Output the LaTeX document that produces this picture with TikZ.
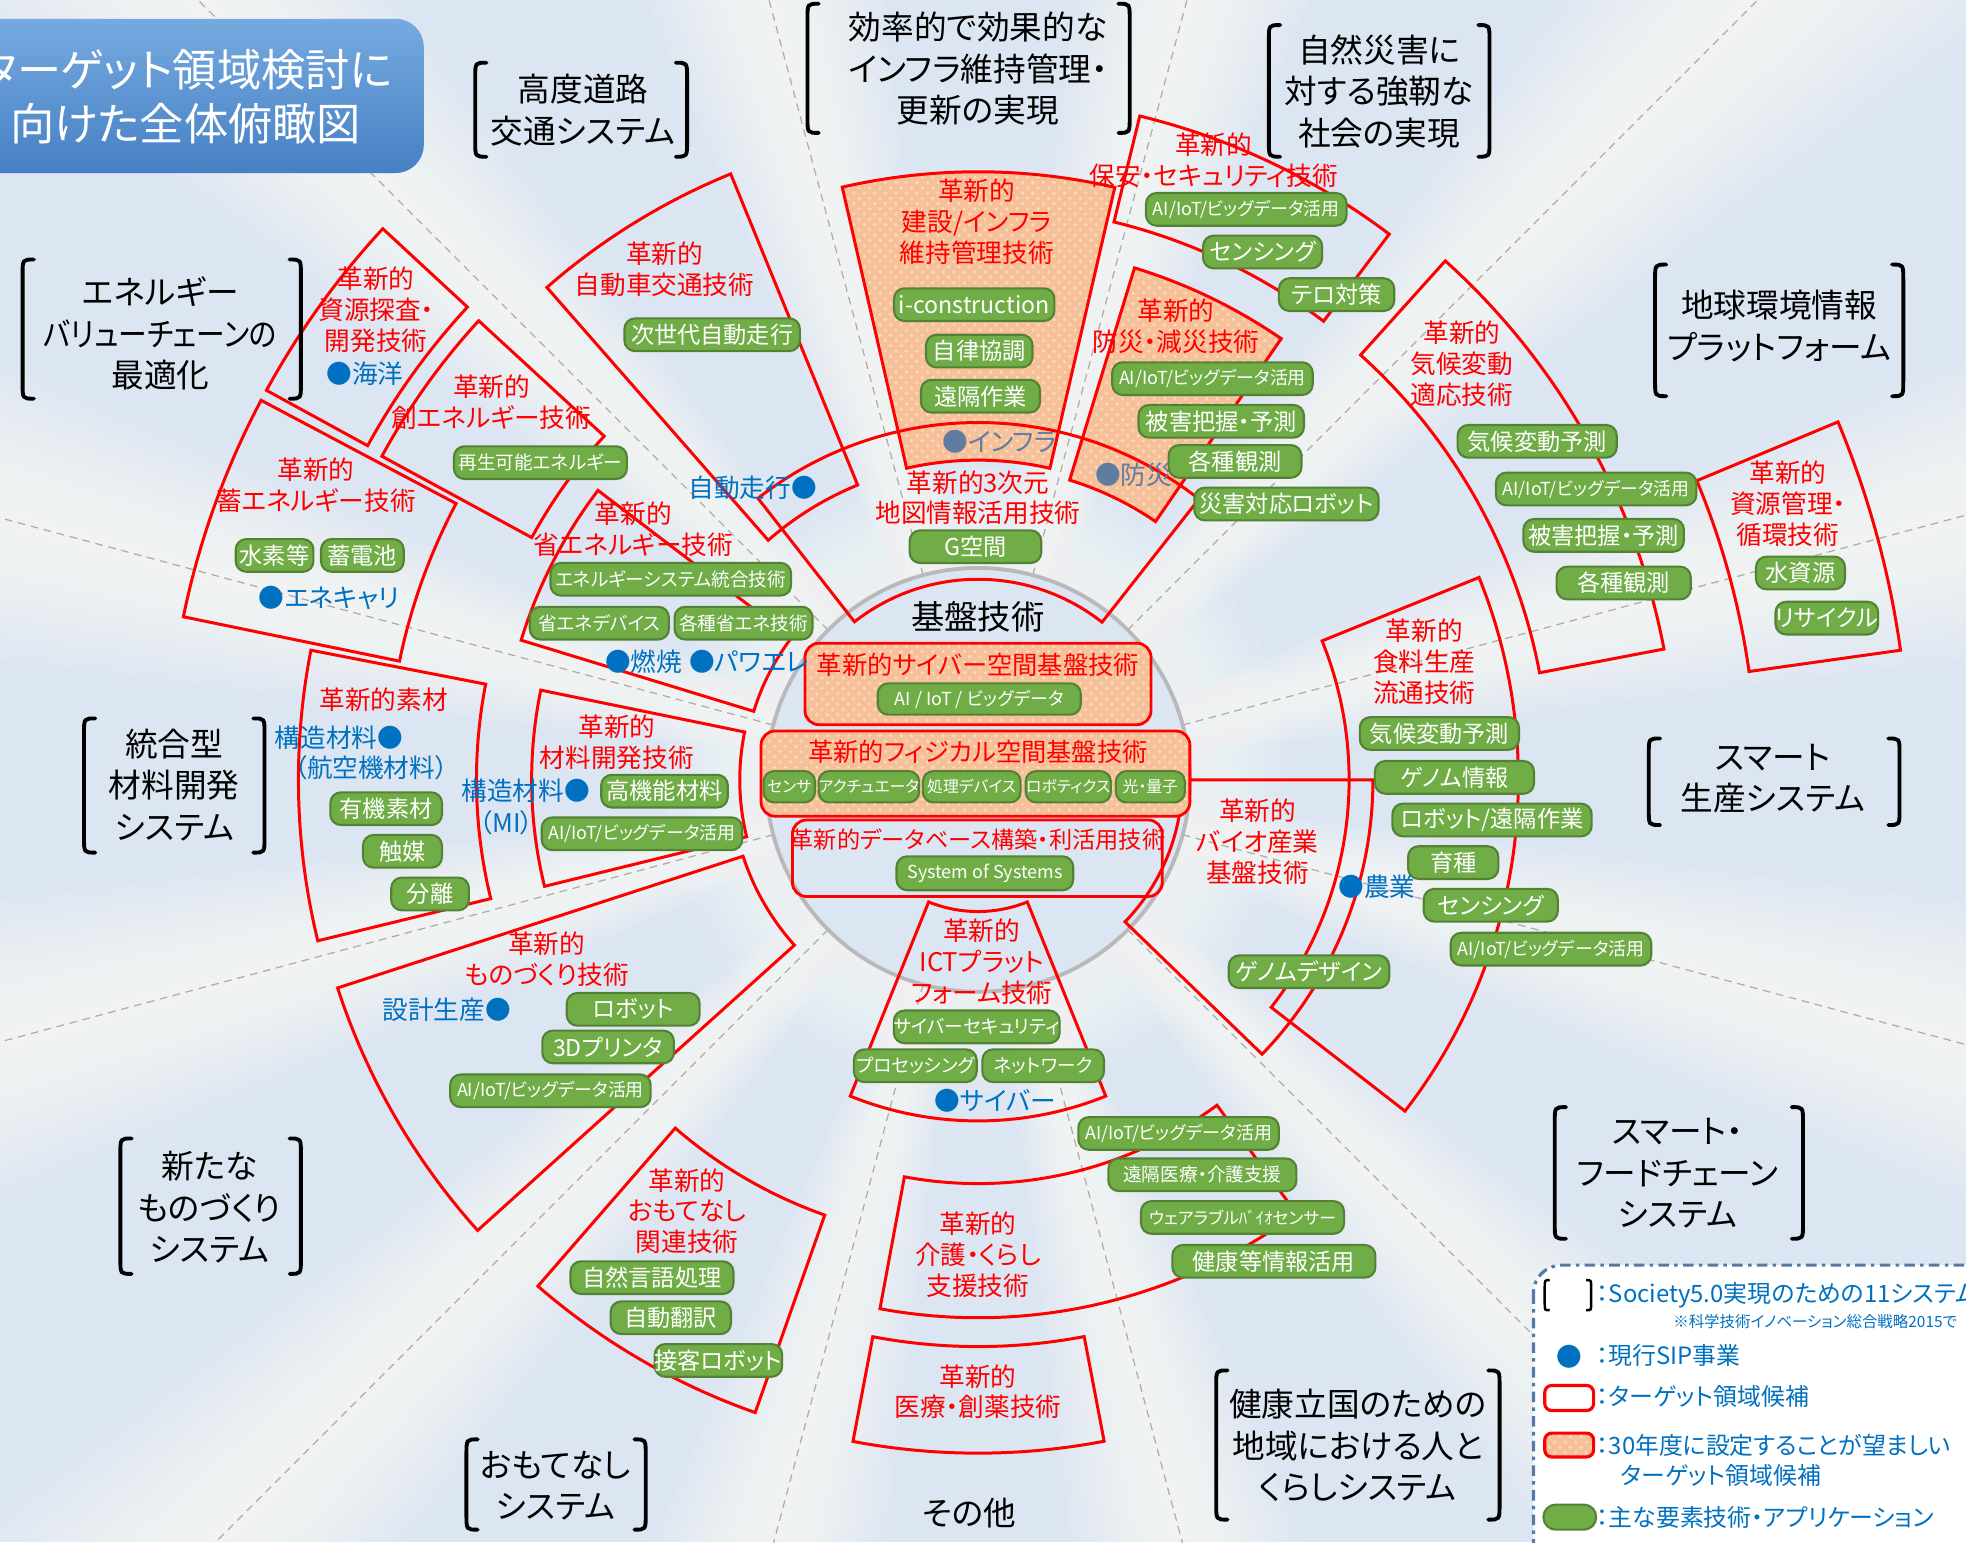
\documentclass[tikz,border=0pt]{standalone}
\usepackage{fontspec}
\usepackage{graphicx}
\setmainfont{Noto Sans CJK JP}[RawFeature=+palt]
\usetikzlibrary{patterns}

\definecolor{bgblue}{RGB}{220,230,242}
\definecolor{circfill}{RGB}{220,230,242}
\definecolor{gfill}{RGB}{112,173,71}
\definecolor{gline}{RGB}{84,130,53}
\definecolor{sipblue}{RGB}{0,112,192}
\definecolor{sipgray}{RGB}{96,124,160}
\definecolor{hatch}{RGB}{246,192,152}
\definecolor{hatchdot}{RGB}{251,218,194}
\definecolor{legline}{RGB}{84,122,168}
\definecolor{titletop}{RGB}{118,170,224}
\definecolor{titlebot}{RGB}{70,128,196}

\newcommand{\fs}[2]{\fontsize{#1pt}{#2pt}\selectfont}

\begin{document}
\begin{tikzpicture}[x=0.012538cm, y=-0.012538cm,
    sect/.style={draw=red, line width=0.85pt},
    ofill/.style={preaction={fill=hatch}, pattern=crosshatch dots, pattern color=hatchdot},
    gbox/.style={draw=gline, fill=gfill, line width=0.6pt, rounded corners=3pt, text=white,
      inner sep=0pt, minimum height=9.3pt, font=\fs{6.6}{7.5}},
    gsmall/.style={gbox, font=\fs{5.3}{6.2}},
    gtiny/.style={gbox, font=\fs{5.1}{6}},
    gmini/.style={gbox, font=\fs{4.5}{5}},
    rtxt/.style={text=red, align=center, inner sep=0pt, font=\fs{7.3}{8.8}},
    btxt/.style={text=sipblue, align=center, inner sep=0pt, font=\fs{7.3}{8.6}},
    ktxt/.style={align=center, inner sep=0pt, font=\fs{9.3}{11.8}},
    ltxt/.style={text=sipblue, anchor=west, inner sep=0pt, font=\fs{6.8}{9}},
    brk/.style={line width=1.1pt, line cap=round},
    divider/.style={draw=gray!65, line width=0.35pt, dash pattern=on 2.2pt off 1.6pt}]

\useasboundingbox (0,0) rectangle (1568,1230);
\clip (0,0) rectangle (1568,1230);

% background: light blue with soft white streaks along the dividers
\fill[bgblue] (0,0) rectangle (1568,1230);
\begin{scope}[shift={(780,622)}]
  \foreach \a in {15,45,...,345}
    \foreach \d in {0.5,1,...,8}
      \fill[white, opacity=0.075] (0,0) -- (-\a-\d:1400) -- (-\a+\d:1400) -- cycle;
  \foreach \w in {5,10,...,80}
    \fill[white, opacity=0.06, even odd rule] (0,0) circle[radius=169+\w] (0,0) circle[radius=160];
\end{scope}

% dividers between the systems
\foreach \a in {15,45,...,345}
  \draw[divider] (780,622) ++(-\a:169) -- ++(-\a:1100);

\draw[gray!55, line width=1.1pt, fill=circfill] (780,622) circle[radius=169];

% target areas
\begin{scope}[shift={(780,622)}]
  \foreach \a/\b/\ra/\rb in {77/102.9/255/485, 55.5/73/250/427}
    \path[ofill] (-\a:\ra) arc[start angle=-\a, end angle=-\b, radius=\ra]
      -- (-\b:\rb) arc[start angle=-\b, end angle=-\a, radius=\rb] -- cycle;
  \foreach \a/\b/\ra/\rb in {137.2/151.3/555/647, 137.4/151.5/405/541, 152.1/168.4/471/647,
      142.7/163/187/381, 112.2/131.2/254/522, 51.8/128/160/285, 77/102.9/255/485,
      55.5/73/250/427, 53/76.3/458/545, 10.8/48/456/557, 8/22.6/621/743,
      322.2/382/296/431, 316/360/163/315, 259.5/306.3/322/429, 259.3/280.8/452/537,
      248/292/105/272, 229/250.6/368/535, 198/222/197/537, 168.4/193.8/190/356,
      169/193.7/400/542}
    \draw[sect] (-\a:\ra) arc[start angle=-\a, end angle=-\b, radius=\ra]
      -- (-\b:\rb) arc[start angle=-\b, end angle=-\a, radius=\rb] -- cycle;
\end{scope}

% basic technologies
\node[font=\fs{9.5}{11}, inner sep=0pt] (kiban) at (780,492) {基盤技術};
\draw[red, line width=0.8pt, rounded corners=4pt, ofill] (642,513) rectangle (918,578);
\draw[red, line width=0.8pt, rounded corners=4pt, ofill] (607,583) rectangle (949,651);
\draw[red, line width=0.8pt, rounded corners=4pt] (632,654) rectangle (927,715);
\node[rtxt, font=\fs{7.2}{8}] (cyber) at (780,530) {革新的サイバー空間基盤技術};
\node[gtiny, minimum width=162*0.3567pt, minimum height=25*0.3567pt] (aiiot) at (781,557.5) {AI / IoT / ビッグデータ};
\node[rtxt, font=\fs{7.2}{8}] (phys) at (780,600) {革新的フィジカル空間基盤技術};
\foreach \x/\w/\t [count=\i] in {629.5/41/センサ, 693/78/アクチュエータ, 775/78/処理デバイス,
    852/68/ロボティクス, 917.5/55/光・量子}
  \node[gmini, minimum width=\w*0.3567pt, minimum height=25*0.3567pt] (p\i) at (\x,627.5) {\t};
\node[rtxt, font=\fs{6.6}{8}] (dbase) at (780,670) {革新的データベース構築・利活用技術};
\node[gtiny, minimum width=141*0.3567pt, minimum height=27*0.3567pt] (sos) at (785.5,696.5) {System of Systems};

% elements and applications
\foreach \x/\y/\w/\t [count=\i] in {568/267/140/次世代自動走行, 777/243/128/i-construction,
    781/280/85/自律協調, 782/316/95/遠隔作業, 1007/201/95/センシング, 1066/235/92/テロ対策,
    974/336/132/被害把握・予測, 985/368/106/各種観測, 1026/402/147/災害対応ロボット,
    778/436/105/G空間, 219/443/62/水素等, 289/443/66/蓄電池, 308/645/89/有機素材,
    321/679/63/触媒, 343/713/62/分離, 530/631/101/高機能材料, 505/805/106/ロボット,
    485/835/105/3Dプリンタ, 1016/1006/162/健康等情報活用, 520/1019/130/自然言語処理,
    535/1051/96/自動翻訳, 573/1085/101/接客ロボット, 1226/352/127/気候変動予測,
    1279/427/128/被害把握・予測, 1295/465/107/各種観測, 1436/457/71/水資源,
    1457/493/79/リサイクル, 1148/585/127/気候変動予測, 1160/620/127/ゲノム情報,
    1190/654/159/{ロボット/遠隔作業}, 1159/688/72/育種, 1189/722/107/センシング,
    1044/775/128/ゲノムデザイン}
  \node[gbox, minimum width=\w*0.3567pt] (g\i) at (\x,\y) {\t};
\foreach \x/\y/\w/\t [count=\i] in {431/369/138/再生可能エネルギー, 535/462/192/エネルギーシステム統合技術,
    478/497/111/省エネデバイス, 593/497/110/各種省エネ技術, 779/819/128/サイバーセキュリティ,
    730/850/98/プロセッシング, 832/850/97/ネットワーク, 959/937/150/遠隔医療・介護支援}
  \node[gsmall, minimum width=\w*0.3567pt] (s\i) at (\x,\y) {\t};
\foreach \x/\y [count=\i] in {994/167, 967/302, 512/665, 439/870, 940/904, 1273/390, 1237/757}
  \node[gtiny, minimum width=160*0.3567pt] (a\i) at (\x,\y) {AI/IoT/ビッグデータ活用};
\node[gtiny, font=\fs{4.8}{6}, minimum width=162*0.3567pt] (wear) at (991,971) {ウェアラブルﾊﾞｲｵセンサー};

% target area names
\foreach \x/\y/\t [count=\i] in {300/247/{革新的\\資源探査・\\開発技術}, 392/321/{革新的\\創エネルギー技術},
    530/215/{革新的\\自動車交通技術}, 779/177/{革新的\\建設/インフラ\\維持管理技術},
    968/128/{革新的\\保安・セキュリティ技術}, 938/260/{革新的\\防災・減災技術},
    1166/290/{革新的\\気候変動\\適応技術}, 1426/402/{革新的\\資源管理・\\循環技術},
    252/387/{革新的\\蓄エネルギー技術}, 505/422/{革新的\\省エネルギー技術},
    780/397/{革新的3次元\\地図情報活用技術}, 1136/528/{革新的\\食料生産\\流通技術},
    306/558/{革新的素材}, 492/592/{革新的\\材料開発技術}, 1003/671/{革新的\\バイオ産業\\基盤技術},
    436/765/{革新的\\ものづくり技術}, 783/767/{革新的\\ICTプラット\\フォーム技術},
    548/966/{革新的\\おもてなし\\関連技術}, 780/1001/{革新的\\介護・くらし\\支援技術},
    780/1110/{革新的\\医療・創薬技術}}
  \node[rtxt] (r\i) at (\x,\y) {\t};

% current SIP projects
\foreach \x/\y/\t [count=\i] in {260/298/●海洋, 206/477/●エネキャリ, 482/528/●燃焼, 549/528/●パワエレ,
    745/878/●サイバー, 1067/707/●農業}
  \node[btxt, anchor=west] (b\i) at (\x,\y) {\t};
\foreach \x/\y/\t [count=\i] in {652/389/自動走行●, 322/588/構造材料●, 471/631/構造材料●, 408/805/設計生産●}
  \node[btxt, anchor=east] (e\i) at (\x,\y) {\t};
\node[btxt] (b7) at (296,612) {（航空機材料）};
\node[btxt] (b8) at (404,656) {（MI）};
\node[btxt, anchor=west, text=sipgray] (b9) at (751,352) {●インフラ};
\node[btxt, anchor=west, text=sipgray] (b10) at (873,379) {●防災};

% the eleven systems
\foreach \x/\y/\t [count=\i] in {465/88/{高度道路\\交通システム}, 780/55/{効率的で効果的な\\インフラ維持管理・\\更新の実現},
    1100/73/{自然災害に\\対する強靭な\\社会の実現}, 1419/260/{地球環境情報\\プラットフォーム},
    128/266/{エネルギー\\\scalebox{0.88}[1]{バリューチェーンの}\\最適化}, 139/626/{統合型\\材料開発\\システム},
    167/963/{新たな\\ものづくり\\システム}, 443/1185/{おもてなし\\システム},
    1083/1153/{健康立国のための\\地域における人と\\くらしシステム}, 1338/936/{スマート・\\フードチェーン\\システム},
    1414/621/{スマート\\生産システム}, 773/1207/{その他}}
  \node[ktxt] (k\i) at (\x,\y) {\t};
\foreach \xl/\xr/\ya/\yb in {379/548/50/125, 644/901/3/106, 1012/1188/20/125, 1320/1518/211/316,
    18/240/207/318, 67/211/573/680, 96/240/908/1016, 372/515/1148/1220, 970/1196/1093/1212,
    1240/1438/883/988, 1315/1515/589/658}
{
  \draw[brk] (\xl+9,\ya) .. controls (\xl,\ya) .. (\xl,\ya+12) -- (\xl,\yb-12) .. controls (\xl,\yb) .. (\xl+9,\yb);
  \draw[brk] (\xr-9,\ya) .. controls (\xr,\ya) .. (\xr,\ya+12) -- (\xr,\yb-12) .. controls (\xr,\yb) .. (\xr-9,\yb);
}

% title
\shade[top color=titletop, bottom color=titlebot, rounded corners=8pt] (-40,15) rectangle (338,138);
\node[text=white, align=center, inner sep=0pt, font=\fs{12.6}{15.3}] (title) at (148,77) {ターゲット領域検討に\\向けた全体俯瞰図};

% legend
\draw[legline, line width=0.9pt, dash pattern=on 3pt off 1.5pt on 1pt off 1.5pt, rounded corners=8pt, fill=white]
  (1223,1009) rectangle (1640,1270);
\draw[line width=0.7pt] (1236,1021) .. controls (1232,1021) .. (1232,1026) -- (1232,1040) .. controls (1232,1045) .. (1236,1045);
\draw[line width=0.7pt] (1265,1021) .. controls (1269,1021) .. (1269,1026) -- (1269,1040) .. controls (1269,1045) .. (1265,1045);
\node[ltxt] (l1) at (1273,1033) {：Society5.0実現のための11システム};
\node[ltxt, font=\fs{4.4}{5}] (l2) at (1334,1054) {※科学技術イノベーション総合戦略2015で};
\node[btxt] (l3) at (1252,1082) {●};
\node[ltxt] (l4) at (1273,1081) {：現行SIP事業};
\draw[red, line width=0.9pt, rounded corners=2pt] (1232,1105) rectangle (1271,1125);
\node[ltxt] (l5) at (1273,1114) {：ターゲット領域候補};
\draw[red, line width=0.9pt, rounded corners=2pt, ofill] (1232,1143) rectangle (1271,1162);
\node[ltxt] (l6) at (1273,1153) {：30年度に設定することが望ましい};
\node[ltxt] (l7) at (1292,1177) {ターゲット領域候補};
\draw[draw=gline, fill=gfill, line width=0.6pt, rounded corners=3.5pt] (1231,1200) rectangle (1273,1220);
\node[ltxt] (l8) at (1273,1210) {：主な要素技術・アプリケーション};

\end{tikzpicture}
\end{document}
